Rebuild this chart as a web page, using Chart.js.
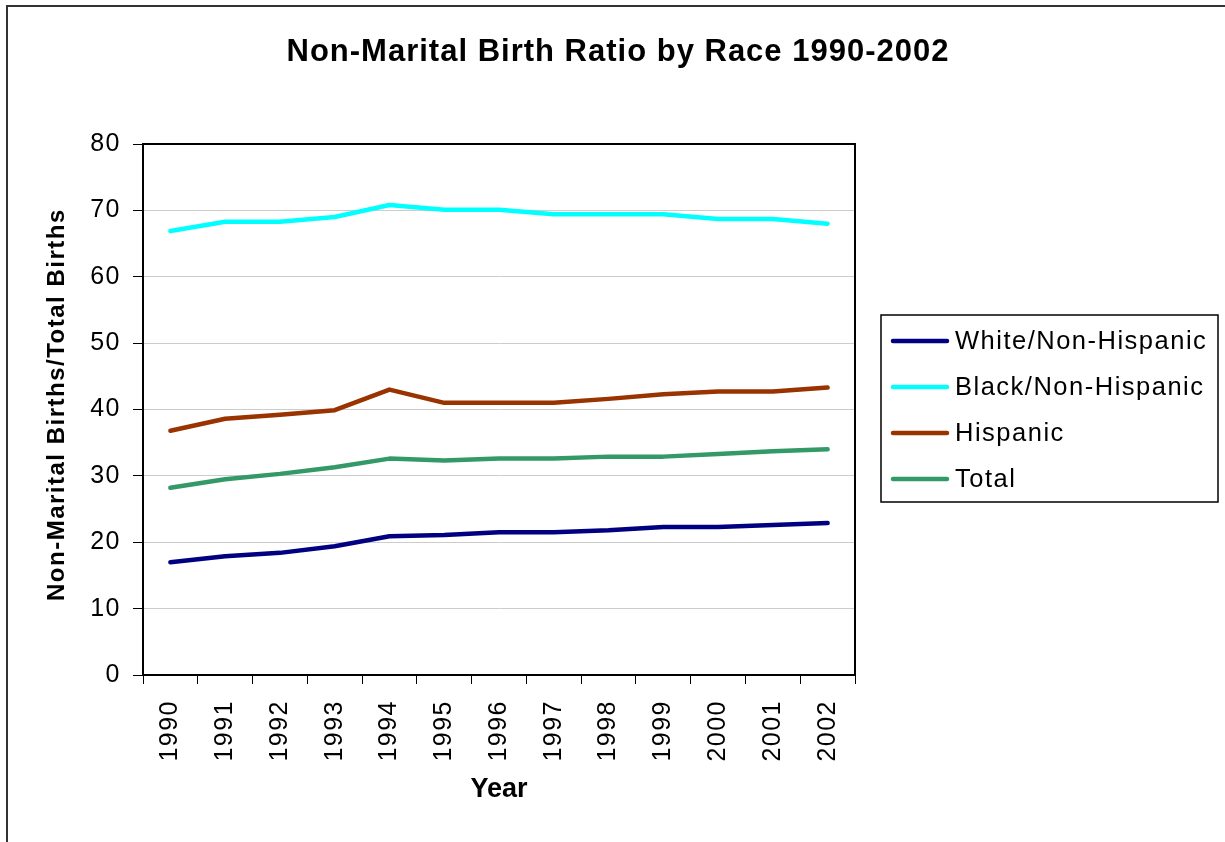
<!DOCTYPE html>
<html>
<head>
<meta charset="utf-8">
<title>Non-Marital Birth Ratio by Race 1990-2002</title>
<script src="https://cdn.jsdelivr.net/npm/chart.js@4.4.1/dist/chart.umd.min.js"></script>
<style>
  html, body { margin: 0; padding: 0; background: #ffffff; }
  canvas { display: block; }
</style>
</head>
<body>
<canvas id="birthChart" width="1225" height="842"></canvas>
<script>
// Data
const years = ['1990', '1991', '1992', '1993', '1994', '1995', '1996', '1997', '1998', '1999', '2000', '2001', '2002'];
const whiteNonHispanic = [17.0, 17.9, 18.4, 19.4, 20.9, 21.1, 21.5, 21.5, 21.8, 22.3, 22.3, 22.6, 22.9];
const blackNonHispanic = [66.9, 68.3, 68.3, 69.0, 70.8, 70.1, 70.1, 69.4, 69.4, 69.4, 68.7, 68.7, 68.0];
const hispanic = [36.8, 38.6, 39.2, 39.9, 43.0, 41.0, 41.0, 41.0, 41.6, 42.3, 42.7, 42.7, 43.3];
const total = [28.2, 29.5, 30.3, 31.3, 32.6, 32.3, 32.6, 32.6, 32.9, 32.9, 33.3, 33.7, 34.0];
const yTicks = [0, 10, 20, 30, 40, 50, 60, 70, 80];

const FONT = "'Liberation Sans', Arial, Helvetica, sans-serif";
const SPACING = '1.5px';

// Titles, legend box and frames drawn on top of the chart
const decorPlugin = {
  id: 'decor',
  beforeLayout(chart) {
    chart.ctx.letterSpacing = SPACING;
  },
  beforeDraw(chart) {
    chart.ctx.letterSpacing = SPACING;
  },
  afterDraw(chart) {
    const ctx = chart.ctx;
    const area = chart.chartArea;
    ctx.save();

    // outer frame (left and top edges)
    ctx.strokeStyle = '#333333';
    ctx.lineWidth = 2;
    ctx.beginPath();
    ctx.moveTo(7, 842);
    ctx.lineTo(7, 6);
    ctx.lineTo(1225, 6);
    ctx.stroke();

    // plot border
    ctx.strokeStyle = '#000000';
    ctx.lineWidth = 2;
    ctx.strokeRect(area.left, area.top, area.right - area.left, area.bottom - area.top);

    // chart title
    ctx.fillStyle = '#000000';
    ctx.letterSpacing = '1px';
    ctx.font = 'bold 31px ' + FONT;
    ctx.textAlign = 'center';
    ctx.textBaseline = 'middle';
    ctx.fillText('Non-Marital Birth Ratio by Race 1990-2002', 618, 52);

    // x axis title
    ctx.letterSpacing = '0px';
    ctx.font = 'bold 27px ' + FONT;
    ctx.fillText('Year', (area.left + area.right) / 2, 790);

    // y axis title
    ctx.save();
    ctx.letterSpacing = '1.5px';
    ctx.font = 'bold 24px ' + FONT;
    ctx.textAlign = 'left';
    ctx.textBaseline = 'alphabetic';
    ctx.translate(63.5, 601);
    ctx.rotate(-Math.PI / 2);
    ctx.fillText('Non-Marital Births/Total Births', 0, 0);
    ctx.restore();

    // legend
    ctx.strokeStyle = '#000000';
    ctx.lineWidth = 1.5;
    ctx.strokeRect(881, 315, 337, 187);
    ctx.letterSpacing = '1.5px';
    ctx.font = '25.5px ' + FONT;
    ctx.textAlign = 'left';
    ctx.textBaseline = 'middle';
    chart.data.datasets.forEach((ds, i) => {
      const y = 341 + i * 46;
      ctx.strokeStyle = ds.borderColor;
      ctx.lineWidth = 4.5;
      ctx.lineCap = 'round';
      ctx.beginPath();
      ctx.moveTo(893, y);
      ctx.lineTo(947, y);
      ctx.stroke();
      ctx.fillStyle = '#000000';
      ctx.fillText(ds.label, 955, y + 1);
    });

    ctx.restore();
  }
};

function makeSeries(label, data, color) {
  return {
    label: label,
    data: data,
    borderColor: color,
    backgroundColor: color,
    borderWidth: 4.5,
    borderCapStyle: 'round',
    borderJoinStyle: 'round',
    pointRadius: 0,
    tension: 0,
    fill: false
  };
}

new Chart(document.getElementById('birthChart'), {
  type: 'line',
  data: {
    labels: years,
    datasets: [
      makeSeries('White/Non-Hispanic', whiteNonHispanic, '#000080'),
      makeSeries('Black/Non-Hispanic', blackNonHispanic, '#00ffff'),
      makeSeries('Hispanic', hispanic, '#993300'),
      makeSeries('Total', total, '#339966')
    ]
  },
  options: {
    responsive: false,
    animation: false,
    devicePixelRatio: 1,
    layout: {
      padding: { left: 0, top: 144, right: 370, bottom: 0 }
    },
    plugins: {
      legend: { display: false },
      title: { display: false },
      tooltip: { enabled: false }
    },
    scales: {
      x: {
        type: 'category',
        offset: true,
        afterFit(scale) { scale.height = 167; },
        grid: {
          offset: true,
          drawOnChartArea: false,
          tickLength: 9,
          tickColor: '#000000',
          tickWidth: 1
        },
        border: { color: '#000000', width: 2 },
        ticks: {
          minRotation: 90,
          maxRotation: 90,
          autoSkip: false,
          padding: 16,
          color: '#000000',
          font: { family: FONT, size: 25 }
        }
      },
      y: {
        min: 0,
        max: 80,
        afterFit(scale) { scale.width = 143; },
        afterBuildTicks(scale) {
          scale.ticks = yTicks.map(v => ({ value: v }));
        },
        grid: {
          color: '#cccccc',
          lineWidth: 1,
          tickLength: 10,
          tickColor: '#000000'
        },
        border: { color: '#000000', width: 2 },
        ticks: {
          padding: 12,
          color: '#000000',
          font: { family: FONT, size: 25 }
        }
      }
    }
  },
  plugins: [decorPlugin]
});
</script>
</body>
</html>
